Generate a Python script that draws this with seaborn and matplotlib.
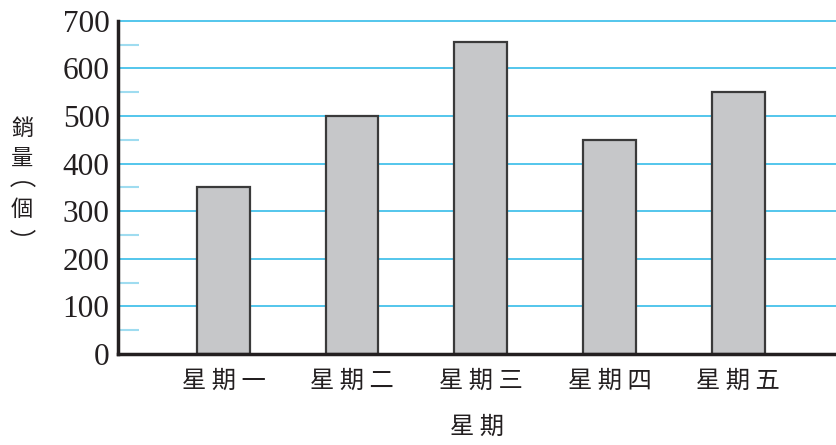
import matplotlib
matplotlib.use("Agg")
import matplotlib.pyplot as plt
import seaborn as sns
from matplotlib.patches import Arc
from matplotlib.transforms import IdentityTransform

# data
days = ["星期一", "星期二", "星期三", "星期四", "星期五"]
sales = [350, 500, 655, 450, 550]
yticks = [0, 100, 200, 300, 400, 500, 600, 700]

sns.set_style("white")
cjk = ["Noto Sans CJK TC", "DejaVu Sans"]
serif = ["Liberation Serif", "DejaVu Serif"]
ink = "#231f20"
W, H = 836, 445

fig = plt.figure(figsize=(W / 100, H / 100), dpi=100)
ax = fig.add_axes([0.141, 0.2045, 0.859, 0.7485])

ax.set_axisbelow(True)
for v in yticks[1:]:
    ax.axhline(v, color="#45c1ea", lw=1.3, zorder=0, clip_on=False)

sns.barplot(x=days, y=sales, ax=ax, color="#c6c7c9", width=0.41,
            edgecolor="#3a3a3a", linewidth=1.6, saturation=1, zorder=2)

ax.set_xlim(-0.82, 4.76)
ax.set_ylim(0, 700)
ax.set_yticks(yticks)
ax.set_yticks([v + 50 for v in yticks[:-1]], minor=True)
ax.tick_params(axis="y", which="major", length=0, pad=6)
ax.tick_params(axis="y", which="minor", direction="in", length=15,
               width=1.5, color="#9fdcf0", left=True)
ax.tick_params(axis="x", length=0, pad=10)

ax.set_xticks(range(len(days)))
ax.set_xticklabels([" ".join(d) for d in days])
for lab in ax.get_yticklabels():
    lab.set_fontfamily(serif)
    lab.set_fontsize(22.5)
    lab.set_color(ink)
for lab in ax.get_xticklabels():
    lab.set_fontfamily(cjk)
    lab.set_fontsize(17.5)
    lab.set_color(ink)

for s in ["top", "right"]:
    ax.spines[s].set_visible(False)
for s in ["left", "bottom"]:
    ax.spines[s].set_color(ink)
    ax.spines[s].set_linewidth(2.5)

ax.set_xlabel("星 期", fontfamily=cjk, fontsize=17.5, color=ink, labelpad=14)
ax.set_ylabel("")

# vertical y label: 銷量(個), brackets drawn as sideways arcs
def ftext(px, py, s):
    fig.text(px / W, 1 - py / H, s, fontfamily=cjk, fontsize=16,
             color=ink, ha="center", va="center")

def bracket(px, py, top):
    t1, t2 = (20, 160) if top else (200, 340)
    fig.add_artist(Arc((px, H - py), 28, 18, theta1=t1, theta2=t2,
                       transform=IdentityTransform(), color=ink, lw=1.2))

ftext(22, 128, "銷")
ftext(22, 158, "量")
bracket(23, 191, True)
ftext(22, 209, "個")
bracket(23, 226, False)

fig.savefig("out.png", dpi=100)
